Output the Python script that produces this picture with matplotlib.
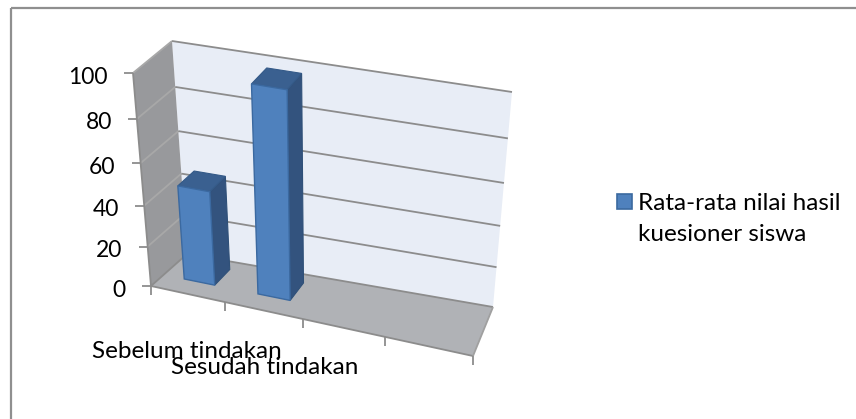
import matplotlib
matplotlib.use('Agg')
import matplotlib.pyplot as plt
import numpy as np
from matplotlib.patches import Polygon, Rectangle

plt.rcParams['font.family'] = ['Lato', 'Open Sans', 'DejaVu Sans']

categories = ['Sebelum tindakan', 'Sesudah tindakan', '', '']
values = [46, 98]
y_ticks = [0, 20, 40, 60, 80, 100]
legend_lines = ['Rata-rata nilai hasil', 'kuesioner siswa']

W, H = 856, 419
bar_width = 0.42
depth_front, depth_back = 0.35, 0.8

# corners of the 3d box in picture pixels, [depth][side]
floor_c = np.array([[[151, 286], [473, 356]], [[187, 254], [493, 307]]], float)
top_c = np.array([[[133, 73], [490, 135]], [[172, 41], [512, 92]]], float)


def persp(f, k):
    return f / (k - (k - 1) * f)


# t = category position, d = depth 0..1, v = value
def proj(t, d, v):
    u = persp(t / len(categories), 1.12)
    h = persp(v / 100.0, 1.1)
    floor = (1 - d) * ((1 - u) * floor_c[0, 0] + u * floor_c[0, 1]) + d * ((1 - u) * floor_c[1, 0] + u * floor_c[1, 1])
    top = (1 - d) * ((1 - u) * top_c[0, 0] + u * top_c[0, 1]) + d * ((1 - u) * top_c[1, 0] + u * top_c[1, 1])
    return (1 - h) * floor + h * top


def line(ax, p, q, color='#8c8c8c', lw=1.3):
    ax.plot([p[0], q[0]], [p[1], q[1]], color=color, lw=lw, solid_capstyle='butt', zorder=3)


fig = plt.figure(figsize=(W / 100, H / 100), dpi=100)
ax = fig.add_axes([0, 0, 1, 1])
ax.set_xlim(0, W)
ax.set_ylim(H, 0)
ax.axis('off')

# outer border, only top and left fall inside the picture
ax.plot([11, 11], [H, 8], color='#8f8f8f', lw=1.6, solid_capstyle='butt')
ax.plot([11, W], [8, 8], color='#8f8f8f', lw=1.6, solid_capstyle='butt')

nc = len(categories)
# back wall, side wall, floor
ax.add_patch(Polygon([proj(0, 1, 0), proj(nc, 1, 0), proj(nc, 1, 100), proj(0, 1, 100)], facecolor='#e8edf6', edgecolor='none', zorder=2))
ax.add_patch(Polygon([proj(0, 0, 0), proj(0, 1, 0), proj(0, 1, 100), proj(0, 0, 100)], facecolor='#98999c', edgecolor='none', zorder=2))
ax.add_patch(Polygon([proj(0, 0, 0), proj(nc, 0, 0), proj(nc, 1, 0), proj(0, 1, 0)], facecolor='#b0b2b6', edgecolor='none', zorder=2))

# gridlines
for v in y_ticks:
    line(ax, proj(0, 0, v), proj(0, 1, v), '#a8a8a8' if v else '#8c8c8c')
    line(ax, proj(0, 1, v), proj(nc, 1, v))
    a = proj(0, 0, v)
    line(ax, a, a + np.array([-9, 0]))
    ax.text(a[0] - 25, a[1] + 4, str(v), ha='right', va='center', fontsize=16.5, color='black', zorder=6)
line(ax, proj(0, 0, 0), proj(0, 0, 100))
line(ax, proj(0, 0, 0), proj(nc, 0, 0))
line(ax, proj(nc, 0, 0), proj(nc, 1, 0), '#a0a0a0')

# category ticks
for t in range(nc + 1):
    a = proj(t, 0, 0)
    line(ax, a, a + np.array([0, 9]))

# bars
for i, val in enumerate(values):
    t0, t1 = i + 0.5 - bar_width / 2, i + 0.5 + bar_width / 2
    ax.add_patch(Polygon([proj(t1, depth_front, 0), proj(t1, depth_back, 0), proj(t1, depth_back, val), proj(t1, depth_front, val)],
                         facecolor='#33537e', edgecolor='#2f5078', lw=0.8, zorder=4))
    ax.add_patch(Polygon([proj(t0, depth_front, val), proj(t1, depth_front, val), proj(t1, depth_back, val), proj(t0, depth_back, val)],
                         facecolor='#3a6090', edgecolor='#345a88', lw=0.8, zorder=4))
    ax.add_patch(Polygon([proj(t0, depth_front, 0), proj(t1, depth_front, 0), proj(t1, depth_front, val), proj(t0, depth_front, val)],
                         facecolor='#4f81bd', edgecolor='#3b69a0', lw=1.0, zorder=5))

# category labels, they overlap in the reference too
ax.text(187, 351, categories[0], ha='center', va='center', fontsize=17.5, color='black', zorder=6)
ax.text(265, 367, categories[1], ha='center', va='center', fontsize=17.5, color='black', zorder=6)

# legend
ax.add_patch(Rectangle((617, 194), 15, 15, facecolor='#4f81bd', edgecolor='#3b69a0', lw=1.2, zorder=5))
ax.text(638, 203, legend_lines[0], ha='left', va='center', fontsize=17.5, color='black')
ax.text(638, 234, legend_lines[1], ha='left', va='center', fontsize=17.5, color='black')

fig.savefig('out.png', dpi=100)
